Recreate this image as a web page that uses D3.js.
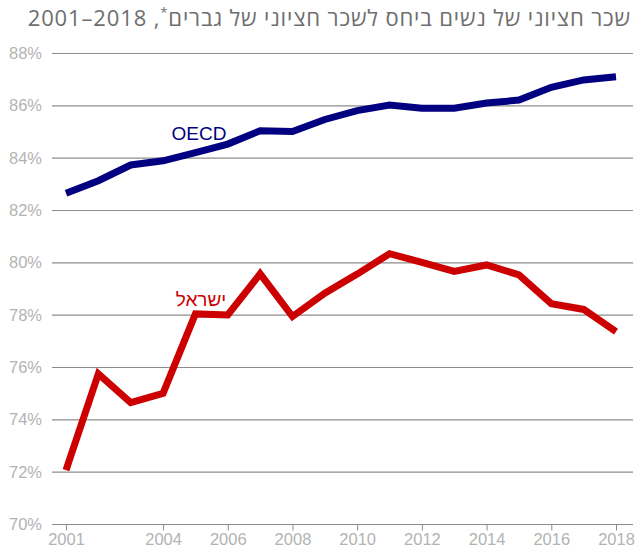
<!DOCTYPE html>
<html><head><meta charset="utf-8">
<script src="https://cdn.jsdelivr.net/npm/d3@7"></script>
<style>body{margin:0;background:#fff}svg{display:block}</style>
</head><body>
<svg id="c" width="635" height="551"></svg>
<script>
const years = d3.range(2001, 2019);
const oecd = [82.64,83.12,83.72,83.88,84.19,84.52,85.03,85.0,85.46,85.8,86.01,85.89,85.89,86.09,86.2,86.69,86.97,87.09];
const israel = [72.06,75.74,74.64,74.99,78.03,77.99,79.56,77.93,78.82,79.55,80.33,80.0,79.65,79.9,79.52,78.42,78.2,77.35];
const yTicks = [70,72,74,76,78,80,82,84,86,88];
const xTicks = [2001,2004,2006,2008,2010,2012,2014,2016,2018];
const titleMain = "שכר חציוני של נשים ביחס לשכר חציוני של גברים";
const titleTail = ", 2018–2001";
const seriesLabels = ["OECD","ישראל"];

const svg = d3.select("#c");
const x = d3.scaleLinear().domain([2001,2018]).range([66,616]);
const y = d3.scaleLinear().domain([70,88]).range([524,53]);

// gridlines
svg.append("g").selectAll("line").data(yTicks.filter(d=>d>70)).join("line")
  .attr("x1",52).attr("x2",633).attr("y1",d=>y(d)+0.5).attr("y2",d=>y(d)+0.5)
  .attr("stroke","#8c8c8c").attr("stroke-width",1.2);

// y labels
svg.append("g").selectAll("text").data(yTicks).join("text")
  .attr("x",42).attr("y",d=>y(d)+6).attr("text-anchor","end")
  .attr("font-family","Liberation Sans, Arial, sans-serif").attr("font-size",16.5)
  .attr("fill","#b3b3b3").text(d=>d+"%");

// x axis
const xAxis = d3.axisBottom(x).tickValues(xTicks).tickFormat(d3.format("d")).tickSize(6).tickSizeOuter(0);
const gx = svg.append("g").attr("transform","translate(0,"+(y(70)+0.5)+")").call(xAxis);
gx.select(".domain").attr("d","M52,0H633").attr("stroke","#8c8c8c").attr("stroke-width",1.2);
gx.selectAll(".tick line").attr("stroke","#8c8c8c");
gx.selectAll(".tick text").attr("font-family","Liberation Sans, Arial, sans-serif").attr("font-size",16.5)
  .attr("fill","#b3b3b3").attr("dy","0.95em").attr("y",5);

const line = d3.line().x((d,i)=>x(years[i])).y(d=>y(d));
svg.append("path").datum(oecd).attr("d",line).attr("fill","none")
  .attr("stroke","#000080").attr("stroke-width",7).attr("stroke-linejoin","miter");
svg.append("path").datum(israel).attr("d",line).attr("fill","none")
  .attr("stroke","#cc0000").attr("stroke-width",7).attr("stroke-linejoin","miter");

svg.append("text").attr("x",199).attr("y",140).attr("text-anchor","middle")
  .attr("font-family","Liberation Sans, Arial, sans-serif").attr("font-size",19)
  .attr("fill","#000080").text(seriesLabels[0]);
svg.append("text").attr("x",201).attr("y",306).attr("text-anchor","middle")
  .attr("font-family","Liberation Sans, Arial, sans-serif").attr("font-size",19)
  .attr("fill","#cc0000").text(seriesLabels[1]);

// title
const t = svg.append("text").attr("x",631).attr("y",26).attr("direction","rtl")
  .attr("text-anchor","start").attr("font-family","Open Sans, DejaVu Sans, sans-serif")
  .attr("font-size",22).attr("fill","#6e6e6e");
t.append("tspan").text(titleMain);
t.append("tspan").attr("font-size",13).attr("dy",-9).text("*");
t.append("tspan").attr("dy",9).text(titleTail);
const bb = t.node().getBBox();
const nChars = (titleMain + "*" + titleTail).length;
const target = 603;
if (bb.width < target) t.attr("letter-spacing", ((target - bb.width) / nChars).toFixed(2));
</script>
</body></html>
